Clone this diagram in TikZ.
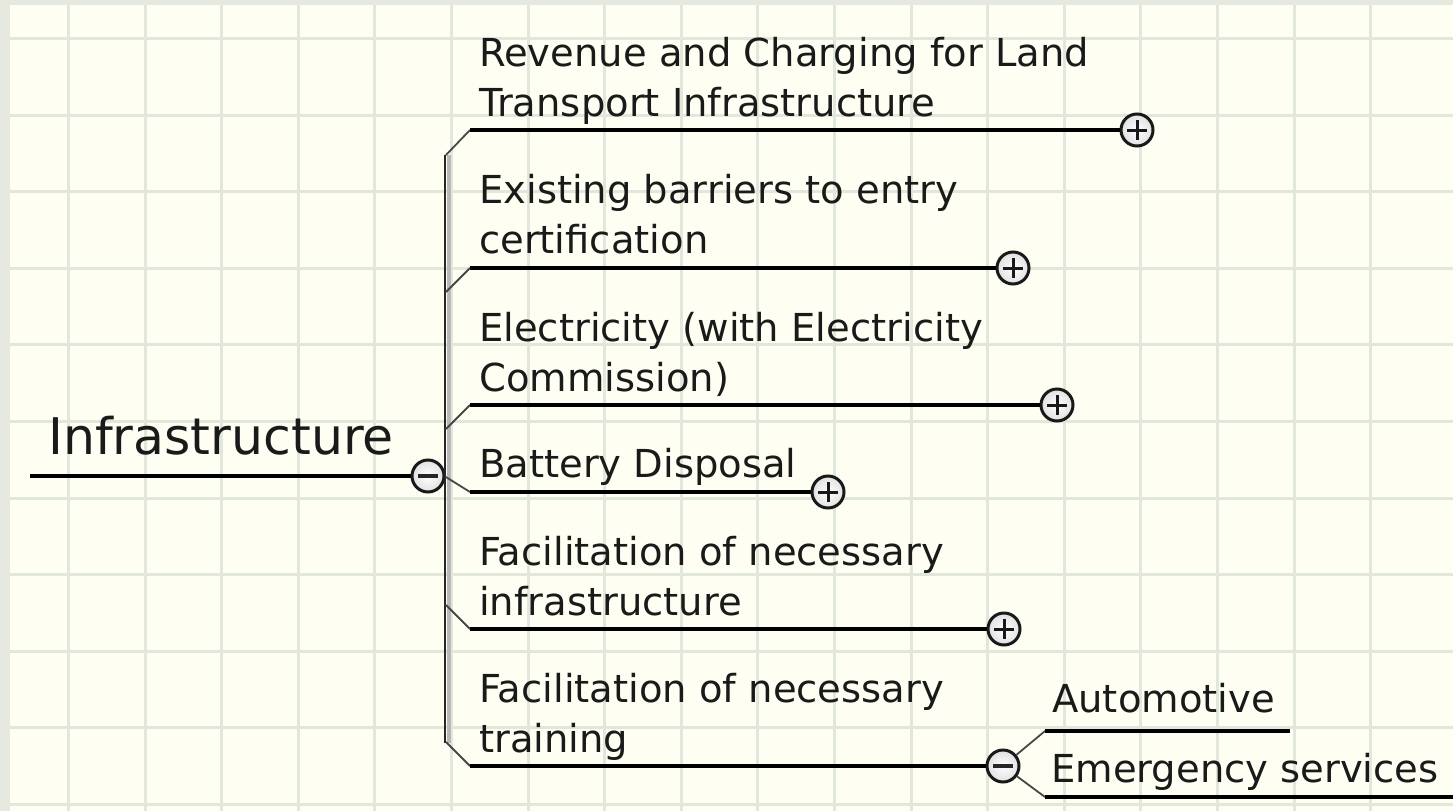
\documentclass[tikz,border=0pt]{standalone}
\usepackage{fontspec}
\setmainfont{DejaVu Sans}
\definecolor{bordergrey}{HTML}{E6E9E0}
\definecolor{paper}{HTML}{FEFFF2}
\definecolor{gridline}{HTML}{E1E7DA}
\definecolor{inkc}{HTML}{1A1A1A}
\begin{document}
\begin{tikzpicture}[x=1pt,y=-1pt,
  btn/.style={circle, draw=black!90, line width=3pt, minimum size=32pt, inner sep=0pt,
    inner color=white, outer color=black!12},
  expandbtn/.style={btn, path picture={
    \draw[line width=3pt] ([xshift=-10pt]path picture bounding box.center) -- ([xshift=10pt]path picture bounding box.center);
    \draw[line width=3pt] ([yshift=-10pt]path picture bounding box.center) -- ([yshift=10pt]path picture bounding box.center);}},
  collapsebtn/.style={btn, path picture={
    \draw[line width=3.5pt, black!85] ([xshift=-10pt]path picture bounding box.center) -- ([xshift=10pt]path picture bounding box.center);}},
  topic/.style={anchor=south west, inner sep=0pt, text depth=0pt, align=left, text=inkc,
    font={\fontsize{38.5}{50}\selectfont}},
  roottopic/.style={anchor=south west, inner sep=0pt, text depth=0pt, text=inkc,
    font={\fontsize{50.5}{60}\selectfont}},
  branch/.style={line width=3.2pt, black},
  bevel/.style={line width=1.8pt, black!72},
  gridstroke/.style={gridline, line width=3pt},
]
\useasboundingbox (0,0) rectangle (1453,811);
% background paper and grid
\fill[bordergrey] (0,0) rectangle (1453,811);
\fill[paper] (10,5) rectangle (1453,811);
\foreach \i in {0,...,17} \draw[gridstroke] ({68.5+76.6*\i},5) -- ({68.5+76.6*\i},811);
\foreach \j in {0,...,10} \draw[gridstroke] (10,{38.5+76.6*\j}) -- (1453,{38.5+76.6*\j});

% root
\node[roottopic] (root) at (48,455) {Infrastructure};
\coordinate (rootstart) at (30,476);
\node[collapsebtn] (c0) at (428,476) {};
\draw[branch] (rootstart) -- (c0);

% spine
\coordinate (spinetop) at (445,155);
\coordinate (spinebot) at (445,743);
\draw[black!28, line width=4pt] ([xshift=3.8pt]spinetop) -- ([xshift=3.8pt]spinebot);
\draw[black!85, line width=2.6pt] (spinetop) -- (spinebot);

% child 1
\node[topic] (t1) at (479,117) {Revenue and Charging for Land\\Transport Infrastructure};
\coordinate (s1) at (470,130);
\coordinate (j1) at (446,155);
\node[expandbtn] (e1) at (1137,130) {};
\draw[bevel] (j1) -- (s1);
\draw[branch] (s1) -- (e1);

% child 2
\node[topic] (t2) at (479,254) {Existing barriers to entry\\certification};
\coordinate (s2) at (470,268);
\coordinate (j2) at (446,292);
\node[expandbtn] (e2) at (1013,268) {};
\draw[bevel] (j2) -- (s2);
\draw[branch] (s2) -- (e2);

% child 3
\node[topic] (t3) at (479,392) {Electricity (with Electricity\\Commission)};
\coordinate (s3) at (470,405);
\coordinate (j3) at (446,429);
\node[expandbtn] (e3) at (1057,405) {};
\draw[bevel] (j3) -- (s3);
\draw[branch] (s3) -- (e3);

% child 4
\node[topic] (t4) at (479,478) {Battery Disposal};
\coordinate (s4) at (470,492);
\coordinate (j4) at (446,477);
\node[expandbtn] (e4) at (828,492) {};
\draw[bevel] (j4) -- (s4);
\draw[branch] (s4) -- (e4);

% child 5
\node[topic] (t5) at (479,616) {Facilitation of necessary\\infrastructure};
\coordinate (s5) at (470,629);
\coordinate (j5) at (446,605);
\node[expandbtn] (e5) at (1004,629) {};
\draw[bevel] (j5) -- (s5);
\draw[branch] (s5) -- (e5);

% child 6
\node[topic] (t6) at (479,753) {Facilitation of necessary\\training};
\coordinate (s6) at (470,766);
\coordinate (j6) at (446,742);
\node[collapsebtn] (c6) at (1003,766) {};
\draw[bevel] (j6) -- (s6);
\draw[branch] (s6) -- (c6);

% sub-children of child 6
\coordinate (sa) at (1045,731);
\coordinate (sae) at (1290,731);
\coordinate (sb) at (1045,797);
\coordinate (sbe) at (1453,797);
\node[topic] (u1) at (1052,713) {Automotive};
\node[topic] (u2) at (1051,783) {Emergency services};
\draw[bevel] (c6) -- (sa);
\draw[branch] (sa) -- (sae);
\draw[bevel] (c6) -- (sb);
\draw[branch] (sb) -- (sbe);
\end{tikzpicture}
\end{document}
